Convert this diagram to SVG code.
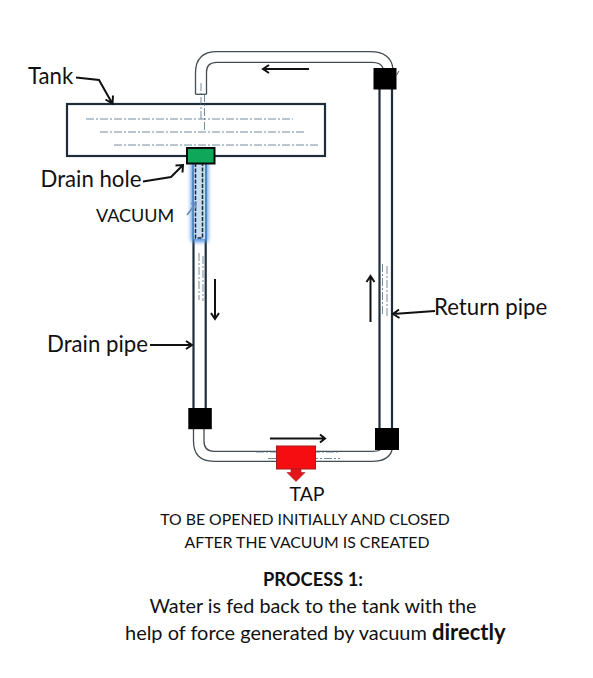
<svg xmlns="http://www.w3.org/2000/svg" width="593" height="678" viewBox="0 0 593 678">
<style>
text{font-family:Lato,"Liberation Sans",sans-serif;fill:#111}
.l{font-size:22.200px}
.s{font-size:15.800px}
.m{font-size:19.800px}
.pipe{fill:none;stroke:#1f2d3a;stroke-width:2.200}
.thin{fill:none;stroke:#444c54;stroke-width:1.300}
.arr{fill:none;stroke:#111;stroke-width:2}
.dash{fill:none;stroke:#4f7088;stroke-width:.8;stroke-dasharray:8 2 2 2}
.blk{fill:#000}
</style>
<defs>
<filter id="glow" x="-80%" y="-20%" width="260%" height="140%"><feGaussianBlur stdDeviation="2.200"/></filter>
</defs>
<rect width="593" height="678" fill="#fff"/>
<g id="tank">
<rect x="67" y="104" width="258" height="52" fill="#fff" stroke="#1f2d3a" stroke-width="2.200"/>
<path class="dash" d="M86 119H293M100 132H306M114 145H320"/>
</g>
<g id="return-pipe">
<path class="pipe" d="M379.500 89V428M392 89V428"/>
<path class="dash" d="M382.500 264V316M387 266V316"/>
</g>
<g id="drain-pipe">
<path class="pipe" d="M193.500 163V408M205.700 163V408"/>
<path class="dash" d="M199 253V300M203 256V301"/>
</g>
<g id="vacuum">
<rect x="191" y="161" width="17" height="81" rx="3" fill="#4f94e6" filter="url(#glow)"/>
<rect x="194" y="163" width="11" height="76" fill="#c9dcf2"/>
<path d="M195.500 163V238H202.500V163" fill="none" stroke="#14263a" stroke-width="1.500" stroke-dasharray="4 1.500"/>
<path d="M187 215L196 203M191 203.500L196 203L195.500 208.500" fill="none" stroke="#6c8cb8" stroke-width="1.600"/>
<text x="96" y="222" style="font-size:18px">VACUUM</text>
</g>
<g id="top-pipe">
<path class="thin" d="M195.500 94.300V73Q195.500 51.700 217 51.700H370Q391 51.700 393 69"/>
<path class="thin" d="M206.500 94.300V72Q206.500 62.300 217 62.300H372Q381 62.300 383 68"/>
<path class="thin" d="M195.500 94.300H206.500"/>
<path class="dash" d="M201 83V120M204.500 94V130"/>
</g>
<g id="bottom-pipe">
<path class="thin" d="M193.500 429V441Q193.500 461.300 214 461.300H372Q389 461.300 392 450"/>
<path class="thin" d="M204 429V441Q204 451.300 214 451.300H372Q378 451.300 380 450"/>
<path class="dash" d="M256 452H340M268 458.500H340"/>
</g>
<g id="valve-1"><rect class="blk" x="373.500" y="68" width="23" height="21.500"/><path d="M396 76L399 71" stroke="#555" fill="none"/></g>
<g id="valve-2"><rect class="blk" x="375" y="428" width="24" height="22"/></g>
<g id="valve-3"><rect class="blk" x="188.300" y="408" width="23.500" height="21.200"/></g>
<g id="drain-hole">
<rect x="187" y="148" width="27.500" height="15.500" fill="#0fa85a" stroke="#0a0a0a" stroke-width="2"/>
</g>
<g id="tap">
<rect x="276.500" y="446" width="39" height="23" fill="#f50d12" stroke="#a81b1e" stroke-width="1"/>
<path d="M291 469H301V472.500H305L296 481.500L287 472.500H291Z" fill="#e3141a" stroke="#a81b1e" stroke-width=".6"/>
<text x="289.500" y="500.500" style="font-size:19.500px">TAP</text>
</g>
<g id="connectors">
<path class="arr" d="M76 77.500L99 80L112 103M105.500 99.500L112.500 103.500L113 95.500"/>
<path class="arr" d="M143 181.500L171 177L183 165M175.500 165.500L183 165L182.500 172.500"/>
<path class="arr" d="M150 345H192M186 341L192 345L186 349"/>
<path class="arr" d="M435 311L393 314M399 309.500L393 314L399.500 318"/>
<path class="arr" d="M309 69H263M269 65L263 69L269 73"/>
<path class="arr" d="M215 279V319M211 313L215 319L219 313"/>
<path class="arr" d="M370.500 322V276M366.500 282L370.500 276L374.500 282"/>
<path class="arr" d="M270 438.500H325M320 434.500L325 438.500L320 442.500"/>
</g>
<g id="labels">
<text class="l" x="28" y="84">Tank</text>
<text class="l" x="40.500" y="187">Drain hole</text>
<text class="l" x="47" y="352">Drain pipe</text>
<text class="l" x="434" y="315">Return pipe</text>
<text class="s" x="305" y="524.500" text-anchor="middle">TO BE OPENED INITIALLY AND CLOSED</text>
<text class="s" x="307" y="547.500" text-anchor="middle">AFTER THE VACUUM IS CREATED</text>
<text x="313" y="585.500" text-anchor="middle" font-weight="700" style="font-size:18.300px">PROCESS 1:</text>
<text class="m" x="313" y="612.500" text-anchor="middle">Water is fed back to the tank with the</text>
<text x="125" y="639.500" style="font-size:19.950px">help of force generated by vacuum <tspan font-weight="700" style="font-size:22px">directly</tspan></text>
</g>
</svg>
